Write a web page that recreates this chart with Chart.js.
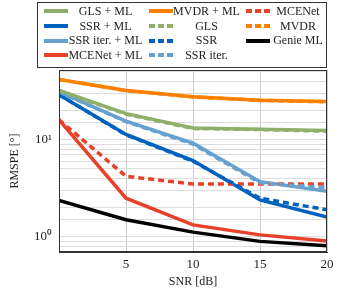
<!DOCTYPE html>
<html>
<head>
<meta charset="utf-8">
<script src="https://cdn.jsdelivr.net/npm/chart.js@4"></script>
<style>
  body { margin: 0; background: #fff; }
  #wrap { position: relative; width: 339px; height: 293px; }
  #legend {
    position: absolute; left: 37px; top: 2px; width: 288px; height: 63px;
    border: 1px solid #333; box-sizing: content-box;
    display: grid; grid-template-columns: 105px 97px 86px; grid-auto-flow: column;
    grid-template-rows: repeat(4, 14.7px); padding-top: 1px;
    font-family: "Liberation Serif", serif; font-size: 12px; color: #222;
  }
  .item { display: flex; align-items: center; padding-left: 6px; }
  .sw { width: 24px; height: 4px; flex: none; }
  .lbl { flex: 1; text-align: center; white-space: nowrap; }
</style>
</head>
<body>
<div id="wrap">
  <canvas id="chart" width="339" height="293"></canvas>
  <div id="legend"></div>
</div>
<script>
const snr = [0, 5, 10, 15, 20];

const glsMl = [32, 18.5, 13.2, 12.8, 12.4];
const ssrMl = [29, 11.3, 6.1, 2.4, 1.6];
const ssrIterMl = [31, 15.5, 9.2, 3.7, 2.95];
const mcenetMl = [16, 2.5, 1.33, 1.05, 0.91];
const mvdrMl = [41.5, 32, 27.6, 25.4, 24.6];
const gls = [32, 18.3, 13.0, 12.7, 12.2];
const ssr = [29, 11.2, 6.0, 2.5, 1.9];
const ssrIter = [31, 15.3, 9.0, 3.6, 3.2];
const mcenet = [16, 4.2, 3.5, 3.5, 3.5];
const mvdr = [41.5, 32, 27.5, 25.3, 24.5];
const genieMl = [2.37, 1.5, 1.12, 0.9, 0.81];

const green = "#8fb06a", blue = "#0062be", lightBlue = "#66a2d0",
      red = "#e8412a", orange = "#ff8000", black = "#000";
const dash = [6, 4];

function line(label, data, color, dashed) {
  return {
    label, data, borderColor: color, backgroundColor: color,
    borderWidth: 3.5, borderDash: dashed ? dash : [], pointRadius: 0, tension: 0,
  };
}

const datasets = [
  line("MVDR", mvdr, orange, true),
  line("GLS", gls, green, true),
  line("SSR iter.", ssrIter, lightBlue, true),
  line("SSR", ssr, blue, true),
  line("MCENet", mcenet, red, true),
  line("MVDR + ML", mvdrMl, orange, false),
  line("GLS + ML", glsMl, green, false),
  line("SSR iter. + ML", ssrIterMl, lightBlue, false),
  line("SSR + ML", ssrMl, blue, false),
  line("MCENet + ML", mcenetMl, red, false),
  line("Genie ML", genieMl, black, false),
];

const legendOrder = ["GLS + ML", "SSR + ML", "SSR iter. + ML", "MCENet + ML",
  "MVDR + ML", "GLS", "SSR", "SSR iter.", "MCENet", "MVDR", "Genie ML"];

const serif = "'Liberation Serif', serif";

const ctx = document.getElementById("chart").getContext("2d");
const chart = new Chart(ctx, {
  type: "line",
  data: { labels: snr, datasets },
  options: {
    responsive: false,
    animation: false,
    layout: { padding: { top: 70, right: 12, left: 0, bottom: 0 } },
    plugins: { legend: { display: false }, tooltip: { enabled: false } },
    scales: {
      x: {
        type: "linear", min: 0, max: 20,
        border: { color: "#333", width: 1 },
        grid: { color: "#ccc", drawTicks: false },
        ticks: {
          stepSize: 5, padding: 5, color: "#222",
          font: { family: serif, size: 13 },
          callback: v => (v === 0 ? "" : v),
        },
        title: { display: true, text: "SNR [dB]", color: "#222", font: { family: serif, size: 12 }, padding: { top: 5 } },
        afterFit: s => { s.height = 41; },
      },
      y: {
        type: "logarithmic", min: 0.7, max: 52,
        border: { color: "#333", width: 1 },
        grid: { color: "#ddd", drawTicks: false },
        ticks: {
          padding: 7, color: "#222", autoSkip: false,
          font: { family: serif, size: 13 },
          callback: v => {
            const l = Math.log10(v);
            if (Math.abs(l - Math.round(l)) > 1e-6) return "";
            return Math.round(l) === 0 ? "10⁰" : "10¹";
          },
        },
        title: { display: true, text: "RMSPE [°]", color: "#222", font: { family: serif, size: 12 }, padding: { top: 8, bottom: 0 } },
        afterFit: s => { s.width = 59; },
      },
    },
  },
  plugins: [{
    id: "frame",
    afterDraw(c) {
      const a = c.chartArea, g = c.ctx;
      g.save();
      g.strokeStyle = "#333"; g.lineWidth = 1;
      g.strokeRect(a.left + 0.5, a.top + 0.5, a.right - a.left - 1, a.bottom - a.top - 1);
      g.restore();
    },
  }],
});

const legend = document.getElementById("legend");
legendOrder.forEach(name => {
  const ds = chart.data.datasets.find(d => d.label === name);
  const item = document.createElement("div");
  item.className = "item";
  const sw = document.createElement("span");
  sw.className = "sw";
  sw.style.background = ds.borderDash.length
    ? `repeating-linear-gradient(90deg, ${ds.borderColor} 0 6px, transparent 6px 9px)`
    : ds.borderColor;
  const lbl = document.createElement("span");
  lbl.className = "lbl";
  lbl.textContent = name;
  item.append(sw, lbl);
  legend.append(item);
});
</script>
</body>
</html>
